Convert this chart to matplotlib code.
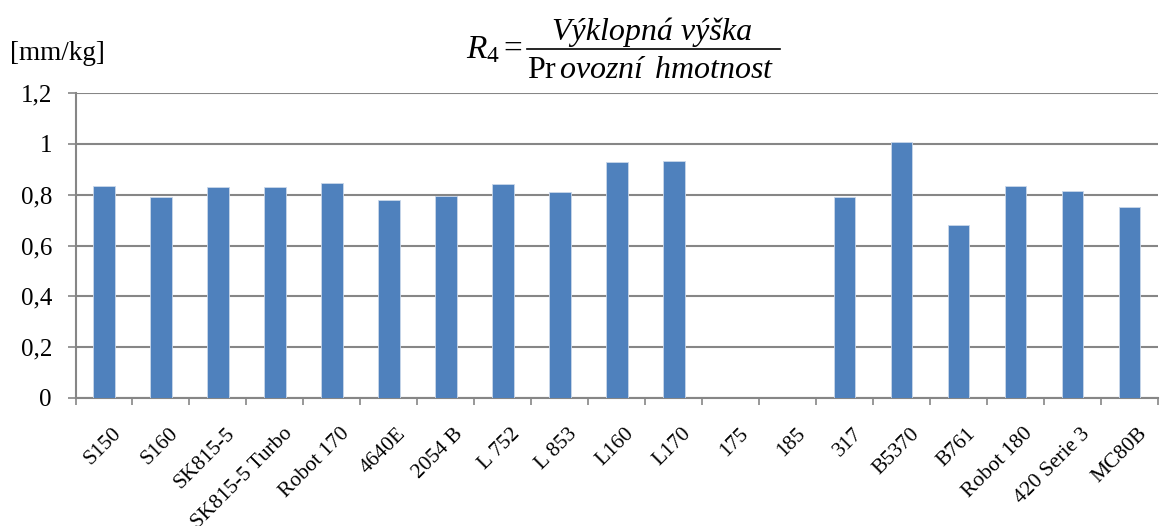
import numpy as np
import matplotlib
matplotlib.use("Agg")
import matplotlib.pyplot as plt
from matplotlib.lines import Line2D
from matplotlib.transforms import ScaledTranslation

plt.rcParams["font.family"] = ["Liberation Serif", "DejaVu Serif"]
plt.rcParams["mathtext.fontset"] = "custom"
plt.rcParams["mathtext.rm"] = "Liberation Serif"
plt.rcParams["mathtext.it"] = "Liberation Serif:italic"

machines = ["S150", "S160", "SK815-5", "SK815-5 Turbo", "Robot 170", "4640E",
            "2054 B", "L 752", "L 853", "L160", "L170", "175", "185", "317",
            "B5370", "B761", "Robot 180", "420 Serie 3", "MC80B"]
ratio = [0.835, 0.791, 0.832, 0.832, 0.844, 0.780, 0.793, 0.843, 0.811, 0.929,
         0.932, 0.0, 0.0, 0.790, 1.008, 0.680, 0.836, 0.815, 0.753]
y_ticks = [0, 0.2, 0.4, 0.6, 0.8, 1.0, 1.2]
y_labels = ["0", "0,2", "0,4", "0,6", "0,8", "1", "1,2"]

GRAY = "#868686"
W, H = 1160, 526

fig = plt.figure(figsize=(W / 100, H / 100), dpi=100)
ax = fig.add_axes([75.5 / W, 1 - 398 / H, (1158 - 75.5) / W, (398 - 93) / H])

x = np.arange(len(machines))
ax.bar(x, ratio, width=0.38, color="#4F81BD", edgecolor="#c9d7ea",
       linewidth=0.6, zorder=3)

ax.set_xlim(-0.5, len(machines) - 0.5)
ax.set_ylim(0, 1.2)
ax.set_yticks(y_ticks)
ax.set_yticklabels(y_labels, fontsize=18)
ax.yaxis.grid(True, color=GRAY, lw=1.5, zorder=0)
ax.set_axisbelow(True)

ax.set_xticks(x)
ax.set_xticklabels(machines, rotation=45, ha="right", va="top",
                   rotation_mode="anchor", fontsize=15.5)
ax.tick_params(axis="x", length=0, pad=19)
shift = ScaledTranslation(8 / 100, 0, fig.dpi_scale_trans)
for lab in ax.get_xticklabels():
    lab.set_transform(lab.get_transform() + shift)
ax.set_xticks(np.arange(-0.5, len(machines)), minor=True)
ax.tick_params(axis="x", which="minor", length=5, color=GRAY, width=1.2)
ax.tick_params(axis="y", length=6, color=GRAY, width=1.2, pad=11)

for s in ("top", "right"):
    ax.spines[s].set_visible(False)
for s in ("left", "bottom"):
    ax.spines[s].set_color(GRAY)
    ax.spines[s].set_linewidth(1.5)

fig.text(10 / W, 1 - 60 / H, "[mm/kg]", fontsize=19.5, va="baseline", ha="left")

# formula R4 = Výklopná výška / Provozní hmotnost
fig.text(523 / W, 1 - 58 / H, r"$R_4 =$", fontsize=24, ha="right",
         va="baseline")
fig.text(652 / W, 1 - 40 / H, "Výklopná výška", fontsize=23, style="italic",
         ha="center", va="baseline")
fig.add_artist(Line2D([527 / W, 780 / W], [1 - 49 / H, 1 - 49 / H],
                      color="black", lw=1.2, transform=fig.transFigure))
fig.text(651 / W, 1 - 78 / H, r"$\mathrm{Pr}\,\mathit{ovozní}\ \,\mathit{hmotnost}$",
         fontsize=23, ha="center", va="baseline")

fig.savefig("out.png", dpi=100)
